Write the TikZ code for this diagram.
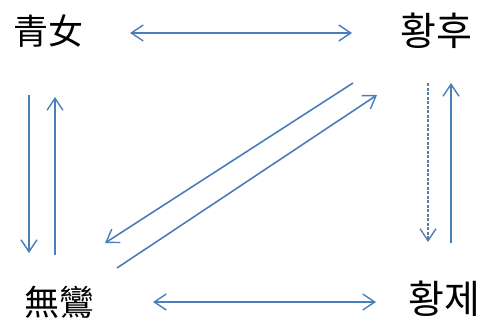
\documentclass[tikz,border=0pt]{standalone}
\usepackage{fontspec}
\newfontfamily\cjk{Noto Sans CJK SC}
\newfontfamily\kor{Noto Sans CJK KR}
\usetikzlibrary{arrows.meta}
\definecolor{arrblue}{HTML}{4A7EBB}
\tikzset{
  lbl/.style={inner sep=0pt, anchor=center},
  hanzi/.style={lbl, font=\cjk\fontsize{35}{35}\selectfont},
  hangul/.style={lbl, font=\kor\fontsize{39}{39}\selectfont},
  tip/.tip={Straight Barb[length=12pt,width=16pt,line width=1.4pt]},
  conn/.style={draw=arrblue, line width=1.6pt, -tip},
  dconn/.style={conn, dashed, dash pattern=on 3pt off 1.5pt, draw=arrblue!70!gray},
  biconn/.style={conn, tip-tip},
}
\begin{document}
\begin{tikzpicture}[x=1pt,y=-1pt]
\useasboundingbox (0,0) rectangle (484,332);
\node[hanzi] (qn) at (48,31) {青女};
\node[hangul] (hh) at (436,31) {황후};
\node[hanzi] (wl) at (59,302) {無鸞};
\node[hangul] (hj) at (444,299) {황제};
% top
\coordinate (t1) at (130,33); \coordinate (t2) at (352,33);
\draw[biconn] (t1) -- (t2);
% bottom
\coordinate (b1) at (153,302); \coordinate (b2) at (376,302);
\draw[biconn] (b1) -- (b2);
% left
\coordinate (l1a) at (29,95); \coordinate (l1b) at (29,253);
\draw[conn] (l1a) -- (l1b);
\coordinate (l2a) at (55,255); \coordinate (l2b) at (55,97);
\draw[conn] (l2a) -- (l2b);
% right
\coordinate (r1a) at (428,83); \coordinate (r1b) at (428,242);
\draw[dconn] (r1a) -- (r1b);
\coordinate (r2a) at (451,243); \coordinate (r2b) at (451,83);
\draw[conn] (r2a) -- (r2b);
% diagonals
\coordinate (d1a) at (353,83); \coordinate (d1b) at (105,243);
\draw[conn] (d1a) -- (d1b);
\coordinate (d2a) at (117,268); \coordinate (d2b) at (377,95);
\draw[conn] (d2a) -- (d2b);
\end{tikzpicture}
\end{document}
